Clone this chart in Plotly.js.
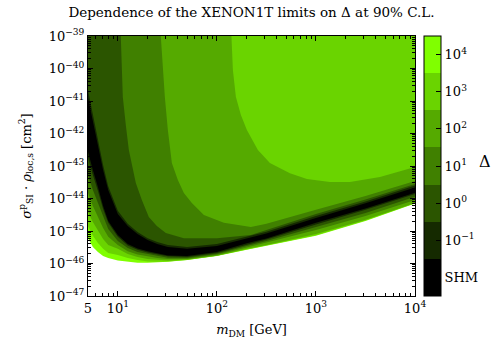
<!DOCTYPE html>
<html><head><meta charset="utf-8">
<script src="https://cdn.plot.ly/plotly-3.0.1.min.js"></script>
<style>html,body{margin:0;padding:0;background:#fff}#plot{width:498px;height:345px}</style>
</head><body><div id="plot"></div>
<script>
// Band colours (SHM, 1e-1 ... 1e4)
const bandLabels = ['SHM','10<sup>−1</sup>','10<sup>0</sup>','10<sup>1</sup>','10<sup>2</sup>','10<sup>3</sup>','10<sup>4</sup>'];
const bandColors = ['#000000','#152a00','#2b5500','#408000','#55aa00','#6ad400','#80ff00'];

// mass grid [GeV] for lower edges and SHM / 0.1 bands
const mGrid = [4.5,5,5.6,6.3,7.1,8,10,12.6,15.8,20,25,32,50,100,200,316,1000,3162,10000,11000];
// log10(sigma) of band edges
const shmUpper = [-40.23,-40.88,-41.65,-42.38,-43.12,-43.74,-44.48,-44.85,-45.09,-45.28,-45.40,-45.49,-45.55,-45.46,-45.23,-45.08,-44.60,-44.15,-43.66,-43.60];
const shmLower = [-42.05,-42.60,-43.12,-43.65,-44.23,-44.69,-45.12,-45.40,-45.54,-45.62,-45.69,-45.75,-45.77,-45.65,-45.38,-45.23,-44.75,-44.31,-43.82,-43.75];
const d01Upper = [-39.98,-40.63,-41.43,-42.20,-42.97,-43.62,-44.38,-44.78,-45.03,-45.22,-45.34,-45.43,-45.49,-45.40,-45.17,-45.02,-44.54,-44.09,-43.60,-43.54];
const d01Lower = [-42.23,-42.75,-43.28,-43.77,-44.32,-44.75,-45.18,-45.45,-45.58,-45.66,-45.72,-45.78,-45.80,-45.68,-45.42,-45.26,-44.80,-44.35,-43.86,-43.80];
const d1Lower  = [-42.75,-43.28,-43.74,-44.14,-44.57,-44.94,-45.31,-45.52,-45.65,-45.71,-45.77,-45.82,-45.83,-45.71,-45.46,-45.31,-44.88,-44.45,-43.95,-43.89];
const d10Lower = [-43.34,-43.83,-44.23,-44.57,-44.91,-45.18,-45.43,-45.62,-45.72,-45.78,-45.83,-45.86,-45.86,-45.74,-45.51,-45.37,-44.97,-44.54,-44.05,-43.98];
const d100Lower= [-43.95,-44.42,-44.72,-45.00,-45.25,-45.43,-45.55,-45.71,-45.80,-45.86,-45.89,-45.91,-45.88,-45.76,-45.55,-45.43,-45.09,-44.65,-44.14,-44.08];
const d1e3Lower= [-44.42,-44.85,-45.15,-45.37,-45.55,-45.68,-45.74,-45.83,-45.89,-45.94,-45.95,-45.94,-45.89,-45.76,-45.57,-45.45,-45.13,-44.68,-44.16,-44.10];
const d1e4Lower= [-44.82,-45.22,-45.49,-45.65,-45.77,-45.83,-45.91,-45.95,-45.98,-45.98,-45.97,-45.95,-45.89,-45.77,-45.58,-45.46,-45.15,-44.69,-44.17,-44.11];

// upper edges that leave through the top of the frame
const d1UpperM = [4.5,10.35,10.72,11.23,12.04,12.92,15.2,17.48,20.56,24.77,30.53,46.42,100,220.5,316,1000,3162,10000,11000];
const d1UpperS = [-37.89,-37.89,-39.03,-40.88,-41.74,-42.51,-43.52,-44.05,-44.57,-44.85,-45.06,-45.22,-45.22,-45.12,-44.97,-44.48,-44.03,-43.55,-43.52];
const d10UpperM = [4.5,26.56,27.19,28.48,29.84,32.0,35.12,40.37,46.42,55.91,73.9,117.7,220.5,316,1000,3162,10000,11000];
const d10UpperS = [-37.89,-37.89,-39.03,-40.05,-40.88,-41.89,-42.91,-43.43,-43.83,-44.14,-44.51,-44.75,-44.88,-44.78,-44.35,-43.92,-43.46,-43.43];
const d100UpperM = [4.5,135.3,138.5,145.1,155.6,174.8,200.9,259.5,343.1,546.3,811.3,1385,2205,4431,10000,11000];
const d100UpperS = [-37.89,-37.89,-39.03,-40.05,-40.88,-41.43,-41.89,-42.51,-42.91,-43.22,-43.40,-43.49,-43.49,-43.34,-43.03,-43.00];
const topM = [4.5,11000];
const topS = [-37.89,-37.89];

function poly(lowM, lowS, upM, upS, color){
  const x = lowM.concat(upM.slice().reverse());
  const y = lowS.concat(upS.slice().reverse()).map(v => Math.pow(10, v));
  return {type:'scatter', mode:'lines', x:x, y:y, fill:'toself', fillcolor:color,
          line:{width:0, color:color}, hoverinfo:'skip', showlegend:false};
}

const traces = [
  poly(mGrid, d1e4Lower, topM, topS, bandColors[6]),
  poly(mGrid, d1e3Lower, topM, topS, bandColors[5]),
  poly(mGrid, d100Lower, d100UpperM, d100UpperS, bandColors[4]),
  poly(mGrid, d10Lower, d10UpperM, d10UpperS, bandColors[3]),
  poly(mGrid, d1Lower, d1UpperM, d1UpperS, bandColors[2]),
  poly(mGrid, d01Lower, mGrid, d01Upper, bandColors[1]),
  poly(mGrid, shmLower, mGrid, shmUpper, bandColors[0])
];

const cs = [];
bandColors.forEach((c,i)=>{cs.push([i/7,c]);cs.push([(i+1)/7,c]);});
traces.push({type:'scatter', mode:'markers', x:[1e6], y:[1e-50], hoverinfo:'skip', showlegend:false,
  marker:{size:1, color:[0], cmin:-0.5, cmax:6.5, colorscale:cs, showscale:true,
    colorbar:{x:1.0275, xanchor:'left', xpad:0, ypad:0, y:0.5, yanchor:'middle', len:1, lenmode:'fraction',
      thickness:17, outlinewidth:1, outlinecolor:'#000',
      tickmode:'array', tickvals:[0,1,2,3,4,5,6], ticktext:bandLabels,
      ticks:'inside', ticklen:5, tickcolor:'#000',
      tickfont:{family:'DejaVu Serif', size:13, color:'#000'}}}});

const ax = {type:'log', showgrid:false, zeroline:false, showline:true, linecolor:'#000', linewidth:1,
  mirror:'allticks', ticks:'inside', ticklen:5, tickcolor:'#000',
  minor:{ticks:'inside', ticklen:3, tickcolor:'#000', dtick:'D1', showgrid:false},
  tickfont:{family:'DejaVu Serif', size:13, color:'#000'}};

const layout = {
  width:498, height:345, margin:{l:88, r:83, t:36, b:49}, paper_bgcolor:'#fff', plot_bgcolor:'#fff',
  title:{text:'Dependence of the XENON1T limits on Δ at 90% C.L.', x:0.5, xref:'paper', xanchor:'center',
    y:1-12/345, yref:'container', yanchor:'middle', font:{family:'DejaVu Serif', size:13.5, color:'#000'}},
  xaxis:Object.assign({}, ax, {range:[Math.log10(5),4], tickmode:'array', tickvals:[5,10,100,1000,10000],
    ticktext:['5','10<sup>1</sup>','10<sup>2</sup>','10<sup>3</sup>','10<sup>4</sup>'],
    title:{text:'<i>m</i><sub>DM</sub> [GeV]', standoff:10, font:{family:'DejaVu Serif', size:13, color:'#000'}}}),
  yaxis:Object.assign({}, ax, {range:[-47,-39], tickmode:'array',
    tickvals:[1e-47,1e-46,1e-45,1e-44,1e-43,1e-42,1e-41,1e-40,1e-39],
    ticktext:['10<sup>−47</sup>','10<sup>−46</sup>','10<sup>−45</sup>','10<sup>−44</sup>','10<sup>−43</sup>','10<sup>−42</sup>','10<sup>−41</sup>','10<sup>−40</sup>','10<sup>−39</sup>'],
    title:{text:'<i>σ</i><sup>p</sup><sub>SI</sub> · <i>ρ</i><sub>loc,s</sub> [cm<sup>2</sup>]', standoff:14, font:{family:'DejaVu Serif', size:13, color:'#000'}}}),
  annotations:[{text:'Δ', xref:'paper', yref:'paper', x:1+(485-415)/327, y:(296-161)/260, xanchor:'center', yanchor:'middle',
    showarrow:false, font:{family:'DejaVu Serif', size:16, color:'#000'}}]
};

Plotly.newPlot('plot', traces, layout, {displayModeBar:false, staticPlot:true});
</script></body></html>
